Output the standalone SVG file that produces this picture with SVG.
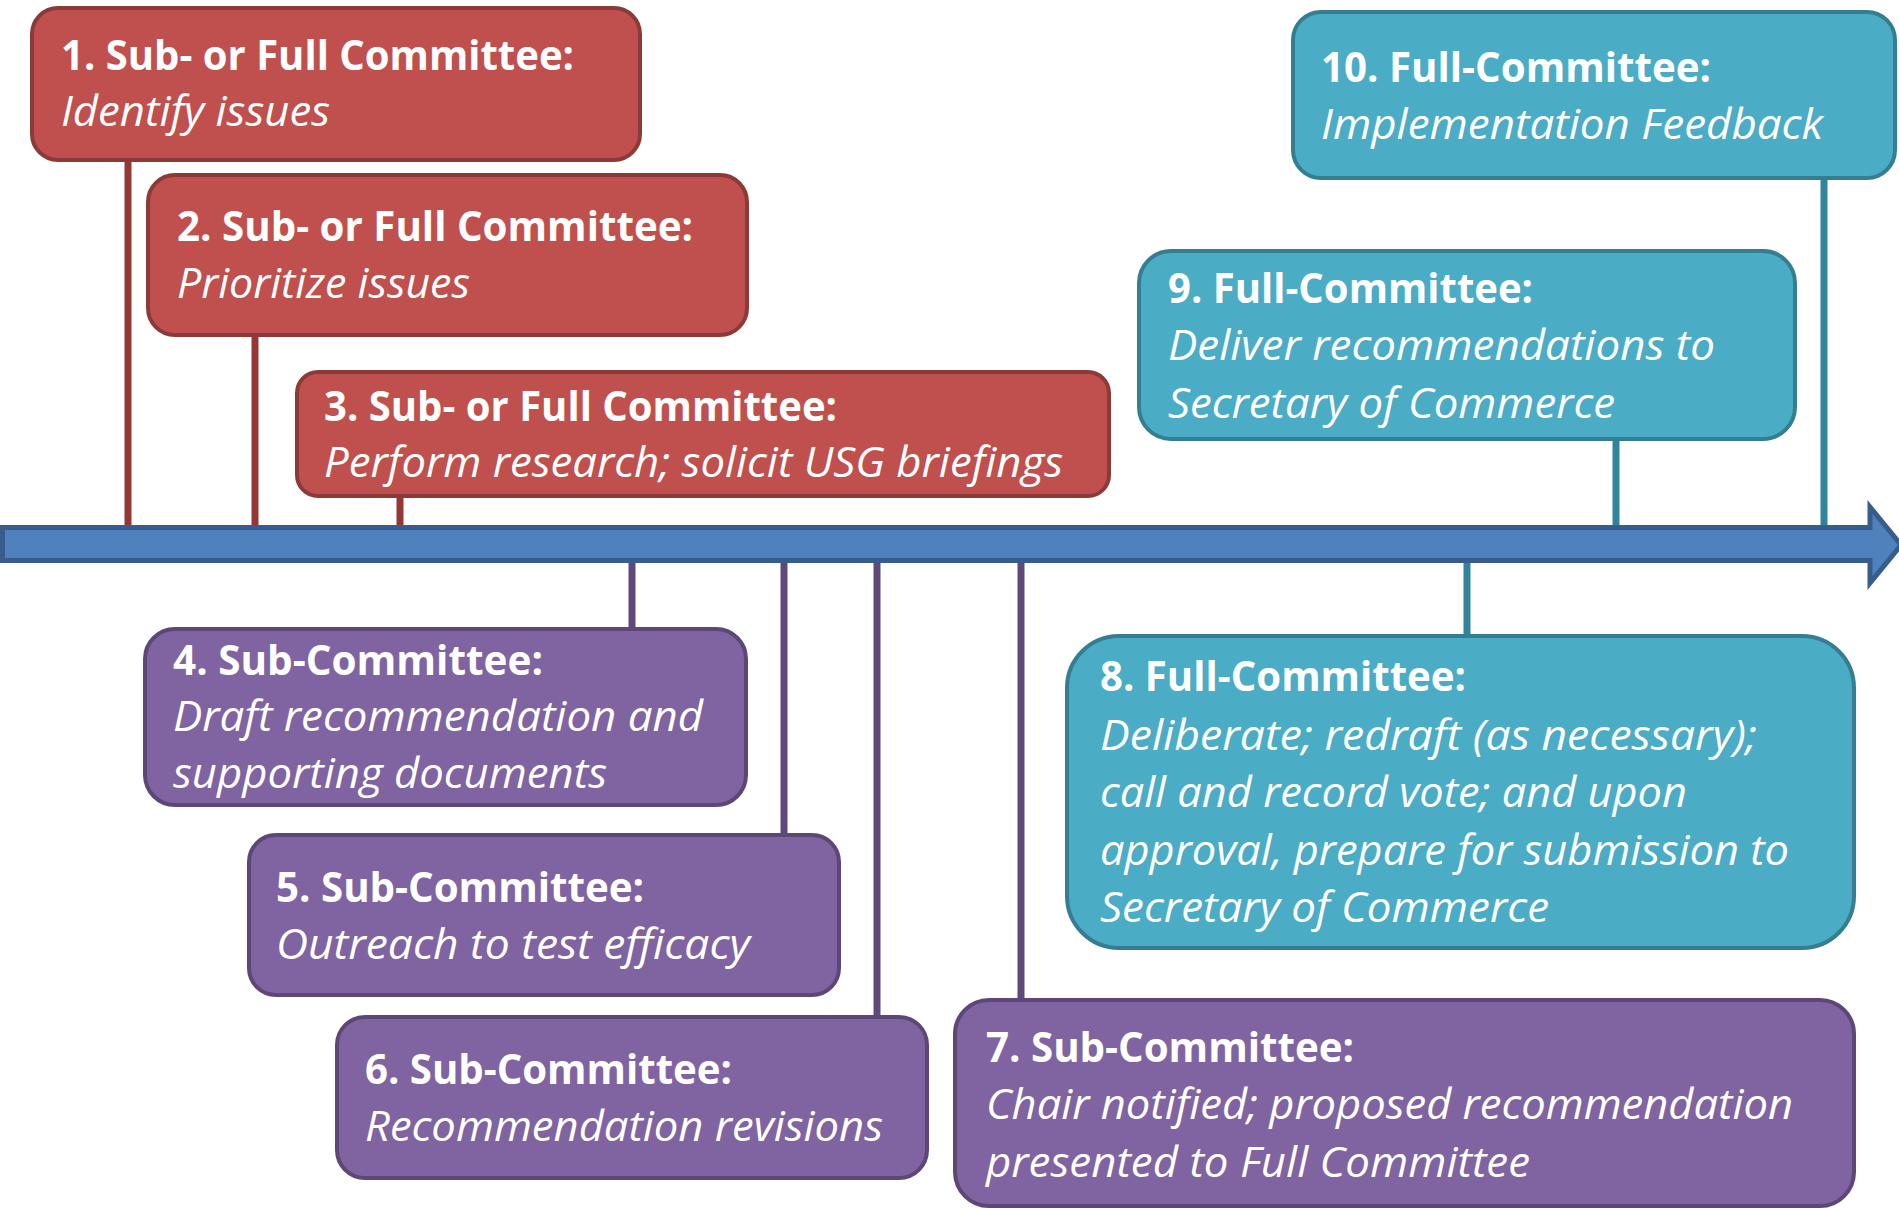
<svg xmlns="http://www.w3.org/2000/svg" width="1899" height="1208" viewBox="0 0 1899 1208">
<style>
.red{fill:#c0504d;stroke:#8c3a38;stroke-width:4}
.pur{fill:#8064a2;stroke:#5c4776;stroke-width:4}
.teal{fill:#4bacc6;stroke:#357d91;stroke-width:4}
.cr{stroke:#953735;stroke-width:7;fill:none}
.cp{stroke:#5f497a;stroke-width:7;fill:none}
.ct{stroke:#31849b;stroke-width:7;fill:none}
text{font-family:"Open Sans","Noto Sans","DejaVu Sans",sans-serif;font-size:42px;fill:#ffffff}
.b{font-weight:bold}
.i{font-style:italic}
</style>
<rect width="1899" height="1208" fill="#ffffff"/>
<g id="connectors">
<line class="cr" x1="128" y1="160" x2="128" y2="530"/>
<line class="cr" x1="255" y1="335" x2="255" y2="530"/>
<line class="cr" x1="400" y1="496" x2="400" y2="530"/>
<line class="cp" x1="632" y1="559" x2="632" y2="629"/>
<line class="cp" x1="784" y1="559" x2="784" y2="835"/>
<line class="cp" x1="877" y1="559" x2="877" y2="1017"/>
<line class="cp" x1="1021" y1="559" x2="1021" y2="1000"/>
<line class="ct" x1="1467" y1="559" x2="1467" y2="636"/>
<line class="ct" x1="1616" y1="439" x2="1616" y2="530"/>
<line class="ct" x1="1824" y1="178" x2="1824" y2="530"/>
</g>
<g id="timeline">
<polygon points="2.5,527.5 1870,527.5 1870,507 1901,545 1870,583 1870,560.5 2.5,560.5" fill="#4f81bd" stroke="#385d8b" stroke-width="5"/>
</g>
<g id="node1">
<rect class="red" x="32" y="8" width="608" height="152" rx="26"/>
<text class="b" x="61" y="70" textLength="513" lengthAdjust="spacingAndGlyphs">1. Sub- or Full Committee:</text>
<text class="i" x="61" y="126" textLength="269" lengthAdjust="spacingAndGlyphs">Identify issues</text>
</g>
<g id="node2">
<rect class="red" x="148" y="175" width="599" height="160" rx="27"/>
<text class="b" x="177" y="241" textLength="516" lengthAdjust="spacingAndGlyphs">2. Sub- or Full Committee:</text>
<text class="i" x="177" y="298" textLength="293" lengthAdjust="spacingAndGlyphs">Prioritize issues</text>
</g>
<g id="node3">
<rect class="red" x="297" y="372" width="812" height="124" rx="21"/>
<text class="b" x="324" y="421" textLength="513" lengthAdjust="spacingAndGlyphs">3. Sub- or Full Committee:</text>
<text class="i" x="324" y="477" textLength="739" lengthAdjust="spacingAndGlyphs">Perform research; solicit USG briefings</text>
</g>
<g id="node10">
<rect class="teal" x="1293" y="12" width="602" height="166" rx="28"/>
<text class="b" x="1321" y="82" textLength="390" lengthAdjust="spacingAndGlyphs">10. Full-Committee:</text>
<text class="i" x="1321" y="139" textLength="502" lengthAdjust="spacingAndGlyphs">Implementation Feedback</text>
</g>
<g id="node9">
<rect class="teal" x="1139" y="251" width="656" height="188" rx="32"/>
<text class="b" x="1168" y="303" textLength="365" lengthAdjust="spacingAndGlyphs">9. Full-Committee:</text>
<text class="i" x="1168" y="360" textLength="547" lengthAdjust="spacingAndGlyphs">Deliver recommendations to</text>
<text class="i" x="1168" y="418" textLength="447" lengthAdjust="spacingAndGlyphs">Secretary of Commerce</text>
</g>
<g id="node4">
<rect class="pur" x="145" y="629" width="601" height="176" rx="30"/>
<text class="b" x="173" y="675" textLength="370" lengthAdjust="spacingAndGlyphs">4. Sub-Committee:</text>
<text class="i" x="173" y="731" textLength="530" lengthAdjust="spacingAndGlyphs">Draft recommendation and</text>
<text class="i" x="173" y="788" textLength="434" lengthAdjust="spacingAndGlyphs">supporting documents</text>
</g>
<g id="node5">
<rect class="pur" x="249" y="835" width="590" height="160" rx="27"/>
<text class="b" x="276" y="902" textLength="368" lengthAdjust="spacingAndGlyphs">5. Sub-Committee:</text>
<text class="i" x="276" y="959" textLength="474" lengthAdjust="spacingAndGlyphs">Outreach to test efficacy</text>
</g>
<g id="node6">
<rect class="pur" x="337" y="1017" width="590" height="161" rx="28"/>
<text class="b" x="365" y="1084" textLength="367" lengthAdjust="spacingAndGlyphs">6. Sub-Committee:</text>
<text class="i" x="365" y="1141" textLength="518" lengthAdjust="spacingAndGlyphs">Recommendation revisions</text>
</g>
<g id="node8">
<rect class="teal" x="1067" y="636" width="787" height="312" rx="52"/>
<text class="b" x="1100" y="691" textLength="366" lengthAdjust="spacingAndGlyphs">8. Full-Committee:</text>
<text class="i" x="1100" y="750" textLength="657" lengthAdjust="spacingAndGlyphs">Deliberate; redraft (as necessary);</text>
<text class="i" x="1100" y="807" textLength="587" lengthAdjust="spacingAndGlyphs">call and record vote; and upon</text>
<text class="i" x="1100" y="865" textLength="689" lengthAdjust="spacingAndGlyphs">approval, prepare for submission to</text>
<text class="i" x="1100" y="922" textLength="449" lengthAdjust="spacingAndGlyphs">Secretary of Commerce</text>
</g>
<g id="node7">
<rect class="pur" x="955" y="1000" width="899" height="206" rx="34"/>
<text class="b" x="986" y="1062" textLength="368" lengthAdjust="spacingAndGlyphs">7. Sub-Committee:</text>
<text class="i" x="986" y="1119" textLength="807" lengthAdjust="spacingAndGlyphs">Chair notified; proposed recommendation</text>
<text class="i" x="986" y="1177" textLength="544" lengthAdjust="spacingAndGlyphs">presented to Full Committee</text>
</g>
</svg>
